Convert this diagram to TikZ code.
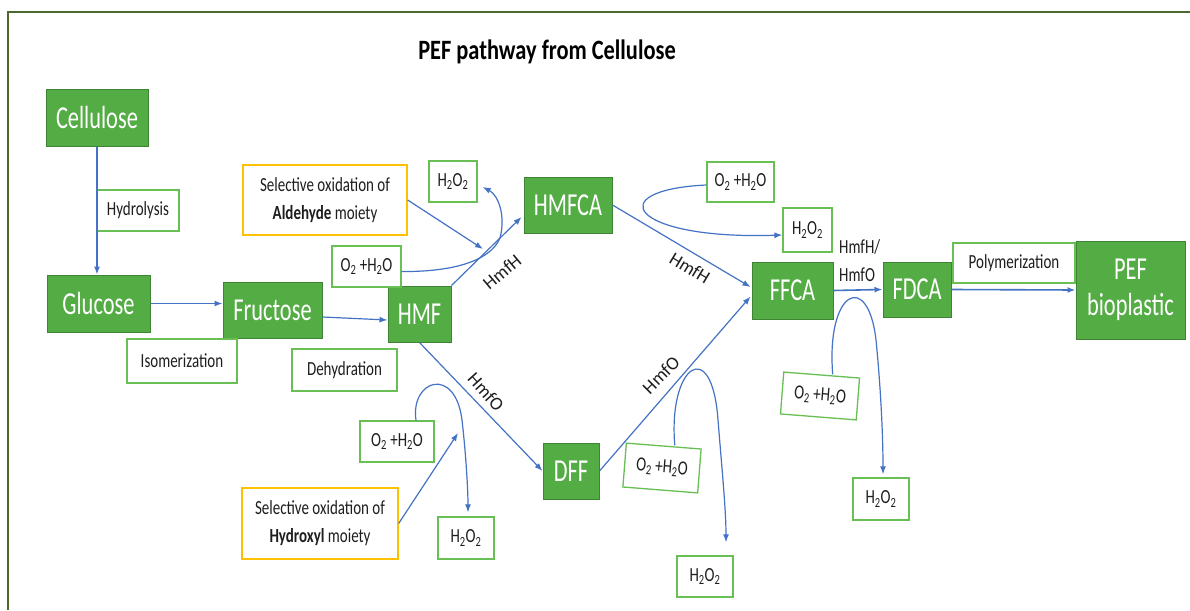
\documentclass[tikz,border=0pt]{standalone}
\usepackage{fontspec}
\setmainfont{Carlito}[FakeStretch=0.75]
\newfontfamily\rotfont{Carlito}
\newfontfamily\bigfont{Carlito}[FakeStretch=0.7]
\newfontfamily\titlefont{Carlito}[FakeStretch=0.8]
\usetikzlibrary{arrows.meta}
\definecolor{gfill}{RGB}{84,172,68}
\definecolor{gdark}{RGB}{62,132,52}
\definecolor{lgreen}{RGB}{104,192,84}
\definecolor{ygold}{RGB}{255,192,0}
\definecolor{ablue}{RGB}{68,114,196}
\definecolor{framecol}{RGB}{76,105,45}
\definecolor{txt}{RGB}{30,30,30}
\tikzset{
 gbox/.style={draw=gdark, fill=gfill, line width=1pt, text=white, font=\bigfont\fontsize{32}{36}\selectfont, inner sep=0pt, align=center},
 lbox/.style={draw=lgreen, fill=white, line width=1.3pt, text=txt, font=\fontsize{20}{28}\selectfont, inner sep=0pt, align=center},
 ybox/.style={lbox, draw=ygold},
 arr/.style={draw=ablue, line width=1.2pt, -{Latex[length=8pt,width=6pt]}},
 lab/.style={font=\rotfont\fontsize{18.5}{22}\selectfont, text=txt, inner sep=0pt},
 sz/.style 2 args={minimum width=#1pt, minimum height=#2pt},
}
\newcommand{\otwo}{O\textsubscript{2} +H\textsubscript{2}O}
\newcommand{\hoo}{H\textsubscript{2}O\textsubscript{2}}
\begin{document}
\begin{tikzpicture}[x=1pt,y=-1pt]
\useasboundingbox (0,0) rectangle (1190,610);
\fill[white] (0,0) rectangle (1190,610);
\draw[framecol, line width=2pt] (7.5,610) -- (7.5,12.5) -- (1190,12.5);

\node[font=\titlefont\bfseries\fontsize{28}{32}\selectfont, text=black] (title) at (547,52) {PEF pathway from Cellulose};

% main boxes
\node[gbox, sz={102}{57}] (cell) at (97,117.5) {Cellulose};
\node[gbox, sz={103}{57}] (gluc) at (98.5,303.5) {Glucose};
\node[gbox, sz={99}{56}] (fruc) at (272.5,310) {Fructose};
\node[gbox, sz={63}{56}] (hmf) at (419.5,314) {HMF};
\node[gbox, sz={88}{56}] (hmfca) at (568,205) {HMFCA};
\node[gbox, sz={56}{56}] (dff) at (571,471) {DFF};
\node[gbox, sz={81}{57}] (ffca) at (792.5,290.5) {FFCA};
\node[gbox, sz={68}{55}] (fdca) at (917,289.5) {FDCA};
\node[gbox, sz={109}{98}] (pef) at (1130.5,290) {PEF\\bioplastic};

% label boxes
\node[lbox, sz={82}{41}] (hydro) at (138,210.5) {Hydrolysis};
\node[lbox, sz={110}{44}] (isom) at (182,361) {Isomerization};
\node[lbox, sz={105}{42}] (dehyd) at (344.5,370) {Dehydration};
\node[lbox, sz={122}{40}] (poly) at (1014,263) {Polymerization};
\node[ybox, sz={164}{70}] (ald) at (325,200) {Selective oxidation of\\\textbf{Aldehyde} moiety};
\node[ybox, sz={156}{71}] (hyd) at (320,523.5) {Selective oxidation of\\\textbf{Hydroxyl} moiety};

\node[lbox, sz={69}{41}] (o2a) at (366.5,266.5) {\otwo};
\node[lbox, sz={48}{41}] (h2o2a) at (453,181.5) {\hoo};
\node[lbox, sz={74}{41}] (o2b) at (397,441.5) {\otwo};
\node[lbox, sz={56}{42}] (h2o2b) at (466,538) {\hoo};
\node[lbox, sz={75}{44}, rotate=-4.5] (o2c) at (662,468) {\otwo};
\node[lbox, sz={56}{41}] (h2o2c) at (705,576.5) {\hoo};
\node[lbox, sz={67}{40}] (o2d) at (740.5,182) {\otwo};
\node[lbox, sz={49}{44}] (h2o2d) at (807.5,230) {\hoo};
\node[lbox, sz={76}{42}, rotate=-4.5] (o2e) at (820,396) {\otwo};
\node[lbox, sz={56}{42}] (h2o2e) at (881,499) {\hoo};

% enzyme labels
\node[lab, rotate=40] (l1) at (502,272) {HmfH};
\node[lab, rotate=-48] (l2) at (486,392) {HmfO};
\node[lab, rotate=-31] (l3) at (690,268) {HmfH};
\node[lab, rotate=45] (l4) at (661,375) {HmfO};
\node[font=\fontsize{20}{28}\selectfont, text=txt, align=left, anchor=west, inner sep=0pt] (l5) at (839,261) {HmfH/\\HmfO};

\coordinate (j1) at (483,249);
\coordinate (j2) at (458,433);

% connectors
\draw[arr] (cell.south) -- (cell.south |- gluc.north);
\draw[arr] (gluc.east) -- (fruc.west |- gluc.east);
\draw[arr] ([yshift=-7pt]fruc.east) -- ([yshift=-6pt]hmf.west);
\draw[arr] (hmf.north east) -- ([xshift=-2pt,yshift=-12pt]hmfca.west);
\draw[arr] (ald.east) -- (j1);
\draw[arr] ([yshift=-5pt]o2a.east) .. controls (450,272) and (490,262) .. (500,238) .. controls (506,215) and (498,195) .. ([xshift=5pt,yshift=-5.5pt]h2o2a.east);
\draw[arr] (hmf.south) -- (dff.west);
\draw[arr] (hyd.east) -- (j2);
\draw[arr] ([xshift=19pt]o2b.north) .. controls (410,380) and (455,365) .. (462,420) .. controls (466,455) and (468,490) .. ([xshift=2pt,yshift=4pt]h2o2b.north);
\draw[arr] (hmfca.east) -- ([xshift=-1pt,yshift=3.5pt]ffca.west);
\draw[arr] (dff.east) -- ([xshift=-1pt,yshift=-6pt]ffca.west);
\draw[arr] ([xshift=11pt]o2c.north) .. controls (668,365) and (712,335) .. (718,420) .. controls (722,470) and (726,510) .. ([xshift=21pt,yshift=13pt]h2o2c.north);
\draw[arr] ([yshift=-3pt]o2d.west) .. controls (600,190) and (630,240) .. ([yshift=-5pt]h2o2d.west);
\draw[arr, line width=1.6pt] (ffca.east) -- (fdca.west);
\draw[arr, line width=1.6pt] (fdca.east) -- (pef.west);
\draw[arr] ([xshift=11pt]o2e.north) .. controls (826,290) and (868,270) .. (876,340) .. controls (880,380) and (883,430) .. ([xshift=2pt,yshift=3pt]h2o2e.north);
\end{tikzpicture}
\end{document}
